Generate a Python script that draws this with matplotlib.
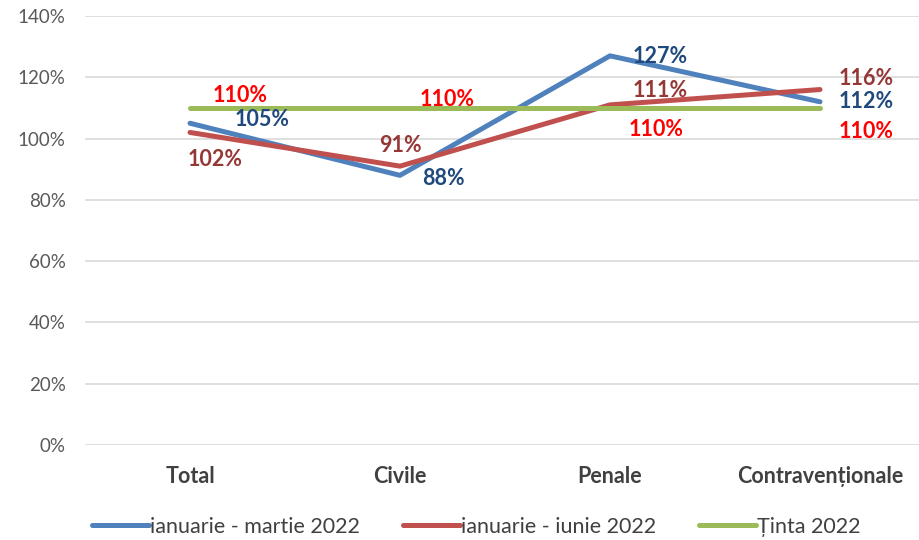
import matplotlib
matplotlib.use('Agg')
import matplotlib.pyplot as plt
from matplotlib.ticker import FuncFormatter

categories = ['Total', 'Civile', 'Penale', 'Contravenționale']
trim1 = [105, 88, 127, 112]      # ianuarie - martie 2022
sem1 = [102, 91, 111, 116]       # ianuarie - iunie 2022
tinta = [110, 110, 110, 110]     # Ținta 2022
y_ticks = [0, 20, 40, 60, 80, 100, 120, 140]

# label offsets in pixels (dx, dy) for each series
off_trim1 = [(72, 4), (43, -3), (50, -1), (46, 0)]
off_sem1 = [(25, -27), (0, 21), (50, 14), (46, 11)]
off_tinta = [(50, 12), (47, 8), (46, -22), (46, -24)]

plt.rcParams['font.family'] = ['Lato', 'DejaVu Sans']

fig = plt.figure(figsize=(9.19, 5.40), dpi=100)
ax = fig.add_axes([85 / 919, 95 / 540, 834 / 919, 429 / 540])

x = list(range(len(categories)))
series = [
    (trim1, '#4F81BD', '#1F497D', off_trim1, 'ianuarie - martie 2022'),
    (sem1, '#C0504D', '#953735', off_sem1, 'ianuarie - iunie 2022'),
    (tinta, '#9BBB59', '#FF0000', off_tinta, 'Ținta 2022'),
]
for vals, col, lcol, offs, name in series:
    ax.plot(x, vals, color=col, lw=3.6, solid_capstyle='round', label=name)
    for xi, v, (dx, dy) in zip(x, vals, offs):
        ax.annotate(f'{v}%', (xi, v), xytext=(dx, dy), textcoords='offset pixels',
                    ha='center', va='center', color=lcol, fontsize=15.5,
                    fontweight='bold')

ax.set_ylim(0, 140)
ax.set_xlim(-0.5, 3.5 - 6 / 210)
ax.set_yticks(y_ticks)
ax.yaxis.set_major_formatter(FuncFormatter(lambda v, _: f'{v:.0f}%'))
ax.set_xticks(x)
ax.set_xticklabels(categories, fontweight='bold', fontsize=15.5, color='#404040')
ax.tick_params(axis='x', length=0, pad=15)
ax.tick_params(axis='y', length=0, pad=14, labelsize=13.5, labelcolor='#595959')
ax.grid(axis='y', color='#D9D9D9', lw=1.2)
ax.set_axisbelow(True)
for s in ax.spines.values():
    s.set_visible(False)

ax.legend(loc='center', bbox_to_anchor=(476 / 919, 13 / 540),
          bbox_transform=fig.transFigure, ncol=3, frameon=False,
          fontsize=15.5, handlelength=2.65, handletextpad=0.05, columnspacing=2.0,
          labelcolor='#404040')

fig.savefig('out.png', dpi=100)
